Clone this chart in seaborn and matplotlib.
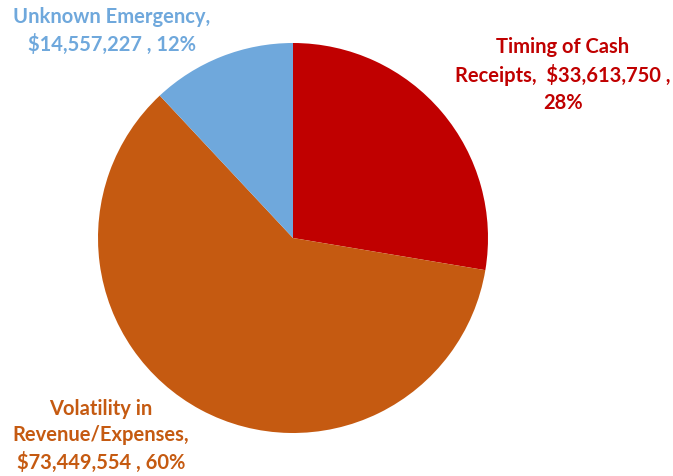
import matplotlib
matplotlib.use("Agg")
import matplotlib.pyplot as plt
import seaborn as sns

# Reserve categories and amounts
categories = ["Timing of Cash\nReceipts,", "Volatility in\nRevenue/Expenses,", "Unknown Emergency,"]
amounts = [33613750, 73449554, 14557227]
slice_colors = ["#C00000", "#C55A11", "#6FA8DC"]

sns.set_theme(style="white")
plt.rcParams["font.family"] = ["Lato", "DejaVu Sans"]

W, H = 673, 476
fig = plt.figure(figsize=(W / 100, H / 100), dpi=100)
cx, cy, r = 293, 238, 195
ax = fig.add_axes([(cx - r) / W, (H - cy - r) / H, 2 * r / W, 2 * r / H])

ax.pie(amounts, colors=slice_colors, startangle=90, counterclock=False,
       radius=1.0, wedgeprops=dict(linewidth=0))
ax.set_xlim(-1, 1)
ax.set_ylim(-1, 1)
ax.set_aspect("equal")
ax.axis("off")

total = sum(amounts)
pcts = [round(100 * a / total) for a in amounts]

def money(v):
    return f"${v:,}"

labels = [
    (f"Timing of Cash\nReceipts,  {money(amounts[0])} ,\n{pcts[0]}%", 563, 75, slice_colors[0]),
    (f"Volatility in\nRevenue/Expenses,\n{money(amounts[1])} , {pcts[1]}%", 101, 436, slice_colors[1]),
    (f"Unknown Emergency,\n{money(amounts[2])} , {pcts[2]}%", 112, 31, slice_colors[2]),
]
for text, x, y, c in labels:
    fig.text(x / W, 1 - y / H, text, ha="center", va="center", color=c,
             fontsize=14.5, fontweight="bold", linespacing=1.42)

fig.savefig("out.png", dpi=100, facecolor="white")
